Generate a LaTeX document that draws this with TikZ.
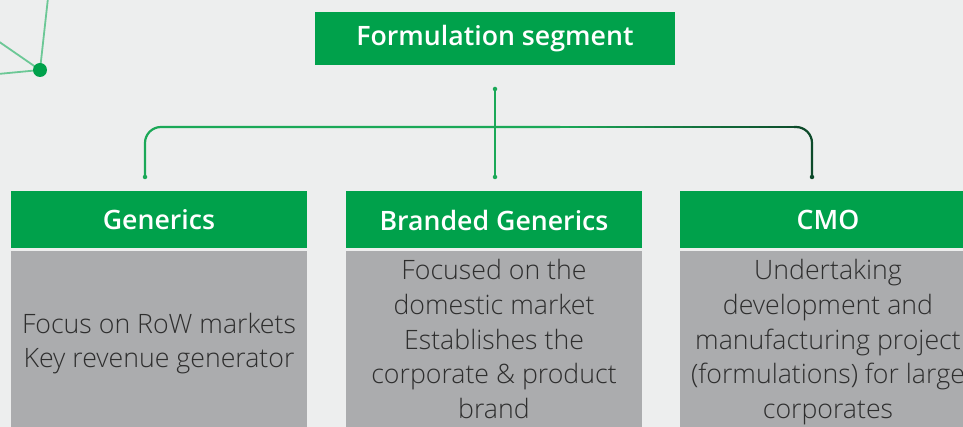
\documentclass[tikz,border=0pt]{standalone}
\usepackage{fontspec}
\setmainfont{Open Sans}
\newfontfamily\ossemi{Open Sans Semibold}
\newfontfamily\oslight{Open Sans Light}
\definecolor{bg}{HTML}{EDEEEE}
\definecolor{hdr}{HTML}{00A14B}
\definecolor{bodyg}{HTML}{ABACAE}
\definecolor{ln}{HTML}{1BA857}
\definecolor{lndark}{HTML}{0D4A2A}
\definecolor{deco}{HTML}{6CC896}
\definecolor{txt}{HTML}{2E2E2E}
\tikzset{
  hdrbox/.style={fill=hdr, draw=none},
  bodybox/.style={fill=bodyg, draw=none},
  hdrtxt/.style={text=white, font=\ossemi\fontsize{26.7}{30}\selectfont, inner sep=0pt},
  bodytxt/.style={text=txt, font=\oslight\fontsize{26.7}{30}\selectfont, inner sep=0pt, anchor=base},
  conn/.style={ln, line width=2.2pt},
  endpt/.style={circle, fill=ln, inner sep=0pt, minimum size=4.5pt}
}
\begin{document}
\begin{tikzpicture}[x=1pt,y=-1pt]
\fill[bg] (0,0) rectangle (963,427);
\useasboundingbox (0,0) rectangle (963,427);
% decoration
\coordinate (d0) at (40,70);
\coordinate (d1) at (48,-2);
\coordinate (d2) at (-2,41);
\coordinate (d3) at (-2,74);
\draw[deco, line width=1.8pt] (d0) -- (d1) (d0) -- (d2) (d0) -- (d3);
\fill[hdr] (d0) circle (7);
% title
\fill[hdrbox] (315,12) rectangle (675,65);
\node[hdrtxt] (title) at (495,39) {Formulation segment};
% boxes
\fill[hdrbox] (11,191) rectangle (307,248);
\fill[bodybox] (11,251) rectangle (307,430);
\fill[hdrbox] (346,191) rectangle (642,248);
\fill[bodybox] (346,251) rectangle (642,430);
\fill[hdrbox] (680,191) rectangle (980,248);
\fill[bodybox] (680,251) rectangle (980,430);
\node[hdrtxt] (h1) at (159,220) {Generics};
\node[hdrtxt] (h2) at (494,220) {Branded Generics};
\node[hdrtxt] (h3) at (828,220) {CMO};
% connectors
\coordinate (top) at (495,89);
\coordinate (mid) at (495,177);
\coordinate (lft) at (145,177);
\coordinate (rgt) at (812,177);
\draw[conn] (top) -- (mid);
\draw[conn, rounded corners=16pt] (lft) -- (145,127) -- (560,127);
\foreach \i in {0,...,24}{
  \pgfmathsetmacro\pc{100-4*\i}
  \draw[line width=2.2pt, color=ln!\pc!lndark] ({559+9.5*\i},127) -- ({569.5+9.5*\i},127);
}
\draw[line width=2.2pt, lndark, rounded corners=16pt] (794,127) -- (812,127) -- (rgt);
\node[endpt] (e0) at (top) {};
\node[endpt] (e1) at (lft) {};
\node[endpt] (e2) at (mid) {};
\node[endpt, fill=lndark] (e3) at (rgt) {};
% body texts
\node[bodytxt] (g1) at (159,334) {Focus on RoW markets};
\node[bodytxt] (g2) at (159,367) {Key revenue generator};
\foreach \t [count=\i] in {Focused on the, domestic market, Establishes the, corporate \& product, brand}
  \node[bodytxt] (b\i) at (494,{280+34.5*(\i-1)}) {\t};
\foreach \t [count=\i] in {Undertaking, development and, manufacturing project, (formulations) for large, corporates}
  \node[bodytxt] (c\i) at (828,{280+34.5*(\i-1)}) {\t};
\end{tikzpicture}
\end{document}
